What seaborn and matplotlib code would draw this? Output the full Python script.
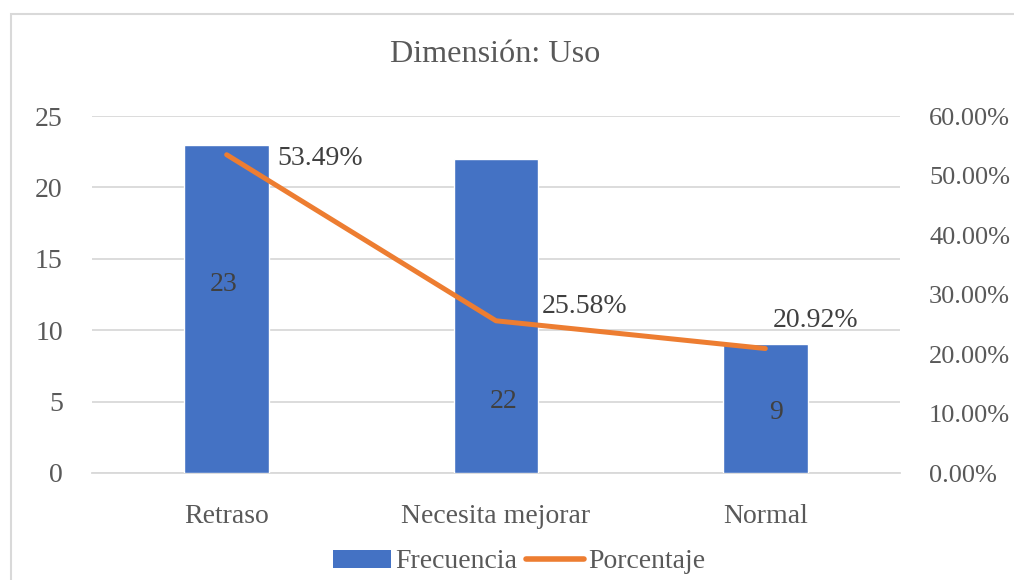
import numpy as np
import pandas as pd
import matplotlib
matplotlib.use('Agg')
import matplotlib.pyplot as plt
import seaborn as sns
from matplotlib.patches import Rectangle, Patch
from matplotlib.lines import Line2D
from matplotlib.ticker import FuncFormatter

# dati
categorie = ['Retraso', 'Necesita mejorar', 'Normal']
frecuencia = [23, 22, 9]
porcentaje = [53.49, 25.58, 20.92]

sns.set_style('white')
plt.rcParams['font.family'] = ['Liberation Serif', 'DejaVu Serif']
grigio = '#595959'
blu = '#4472C4'
arancio = '#ED7D31'
fs = 20

df = pd.DataFrame({'cat': categorie, 'freq': frecuencia, 'pct': porcentaje})

fig = plt.figure(figsize=(10.14, 5.8), dpi=100)
ax = fig.add_axes([92/1014, 1-473/580, 808/1014, 357/580])

sns.barplot(data=df, x='cat', y='freq', color=blu, width=0.315, saturation=1, ax=ax, zorder=3)
ax.set_ylim(0, 25)
ax.set_xlim(-0.5, 2.5)
ax.set_yticks(range(0, 26, 5))
ax.yaxis.grid(True, color='#d9d9d9', lw=1.3, zorder=0)
ax.set_axisbelow(True)
for s in ['top', 'left', 'right']:
    ax.spines[s].set_visible(False)
ax.spines['bottom'].set_color('#d9d9d9')
ax.spines['bottom'].set_linewidth(1.3)
ax.set_xlabel('')
ax.set_ylabel('')
ax.tick_params(axis='y', length=0, pad=21, labelsize=fs, labelcolor=grigio)
ax.tick_params(axis='x', length=0, pad=22, labelsize=fs, labelcolor=grigio)

# etichette delle barre (posizioni come nel grafico originale)
lab_pos = [(-0.01, 0.573), (0.03, 0.226), (0.04, 0.467)]
for i, v in enumerate(frecuencia):
    dx, fr = lab_pos[i]
    ax.text(i + dx, v * fr, str(v), ha='center', va='center', fontsize=fs, color='#404040', zorder=4)

# asse destro: percentuale
ax2 = ax.twinx()
sns.lineplot(x=np.arange(len(categorie)), y=df['pct'], color=arancio, lw=3.6, ax=ax2, zorder=5)
ax2.set_ylim(0, 60)
ax2.set_yticks(range(0, 61, 10))
ax2.yaxis.set_major_formatter(FuncFormatter(lambda v, p: f'{v:.2f}%'))
ax2.tick_params(axis='y', length=0, pad=21, labelsize=19, labelcolor=grigio)
for s in ax2.spines.values():
    s.set_visible(False)
ax2.set_ylabel('')

offs = [(51, -4, 'left'), (46, 14, 'left'), (50, 28, 'center')]
for i, p in enumerate(porcentaje):
    ox, oy, ha = offs[i]
    ax2.annotate(f'{p:.2f}%', (i, p), xytext=(ox, oy), textcoords='offset pixels',
                 ha=ha, va='center', fontsize=fs, color='#404040')

fig.suptitle('Dimensión: Uso', x=495/1014, y=1-55/580, va='center', fontsize=23.2, color=grigio)

# legenda
handles = [Patch(facecolor=blu, edgecolor='none'), Line2D([0], [0], color=arancio, lw=4)]
fig.legend(handles, ['Frecuencia', 'Porcentaje'], loc='center', bbox_to_anchor=(519/1014, 1-562/580),
           ncol=2, frameon=False, fontsize=fs, labelcolor=grigio, handlelength=2.1,
           handleheight=0.6, handletextpad=0.15, columnspacing=0.3)

# cornice
fig.patches.append(Rectangle((11/1014, -0.1), 1.2, 1.1 - 14/580, transform=fig.transFigure,
                             fill=False, edgecolor='#d9d9d9', lw=1.5))

fig.savefig('out.png', dpi=100)
